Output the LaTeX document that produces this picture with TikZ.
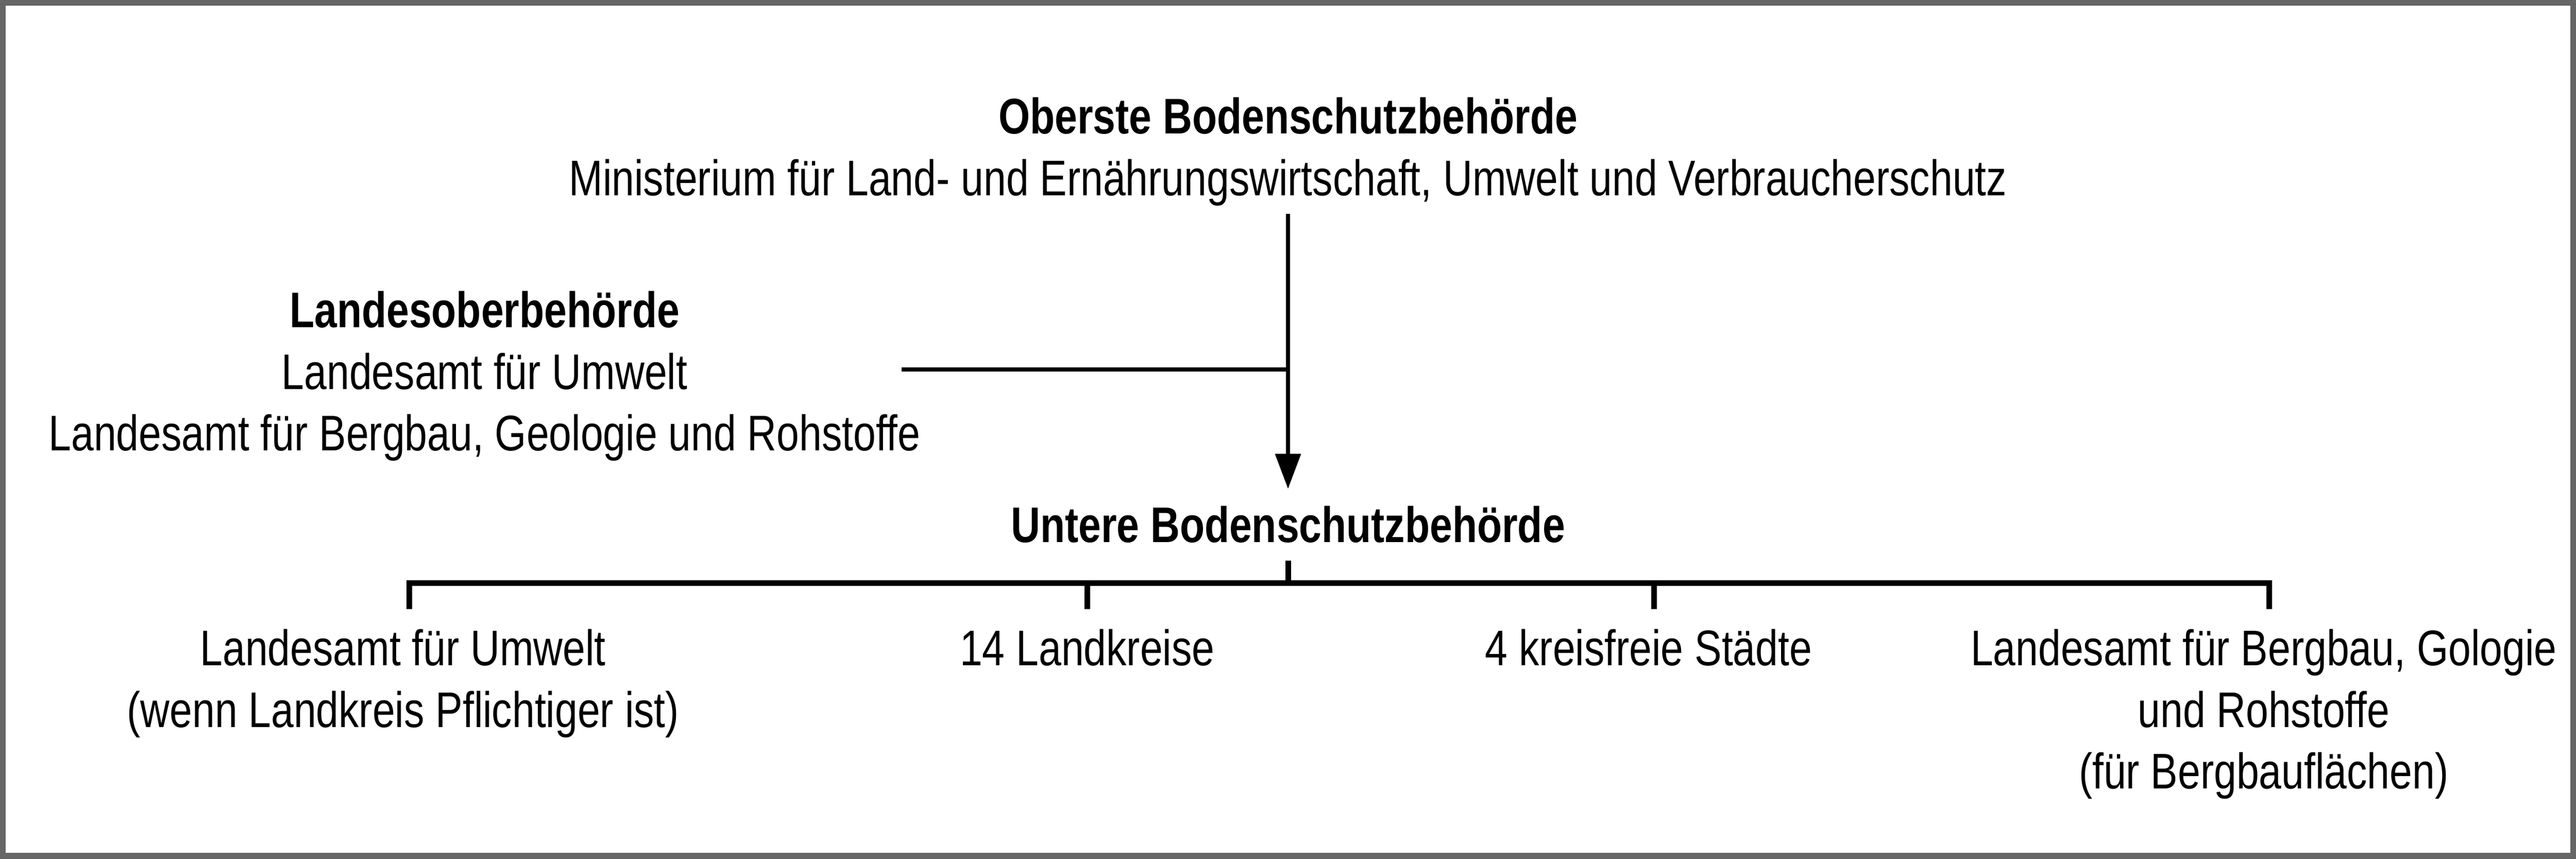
\documentclass[tikz,border=0pt]{standalone}
\usepackage{fontspec}
\setmainfont[FakeStretch=0.81]{Liberation Sans}
\usetikzlibrary{arrows.meta}
\definecolor{framegray}{HTML}{666666}

\begin{document}
\begin{tikzpicture}[
	every node/.style={align=center, inner xsep=0pt, inner ysep=5pt,
		font=\fontsize{13.27pt}{16.33pt}\selectfont},
	lvl/.style={line width=1.2pt},
	brk/.style={line width=1.5pt}]

	\useasboundingbox (0,0) rectangle (24,8);
	\fill[framegray] (0,0) rectangle (24,8);
	\fill[white] (0.055,0.055) rectangle (23.945,7.945);

	% base of a node with several lines = baseline of its last line
	\node[anchor=base,inner ysep=2pt] (top) at (12,6.180) {\textbf{Oberste Bodenschutzbehörde}\\
		Ministerium für Land- und Ernährungswirtschaft, Umwelt und Verbraucherschutz};
	\node[anchor=base] (lob) at (4.515,3.801) {\textbf{Landesoberbehörde}\\
		Landesamt für Umwelt\\
		Landesamt für Bergbau, Geologie und Rohstoffe};
	\node[anchor=base,inner ysep=4.4pt] (ubb) at (12,2.946) {\textbf{Untere Bodenschutzbehörde}};

	\coordinate (hub) at (12,2.571);
	\coordinate (lobend) at (8.40,4.558);
	\coordinate (t1) at (3.815,2.326);
	\coordinate (t2) at (10.13,2.326);
	\coordinate (t3) at (15.41,2.326);
	\coordinate (t4) at (21.14,2.326);

	\node[anchor=base] (lfu) at (3.755,1.227)
		{Landesamt für Umwelt\\(wenn Landkreis Pflichtiger ist)};
	\node[anchor=base] (lkr) at (10.13,1.803) {14 Landkreise};
	\node[anchor=base] (ksf) at (15.36,1.803) {4 kreisfreie Städte};
	\node[anchor=base] (lbg) at (21.09,0.653)
		{Landesamt für Bergbau, Gologie\\und Rohstoffe\\(für Bergbauflächen)};

	\path[lvl,-{Triangle[length=9.3pt,width=6.6pt]}] (top) edge (ubb);
	\path[lvl] (lobend) edge (lobend -| top.south);

	\path[brk] (ubb) edge (hub);
	\draw[brk] (t1) |- (hub) -| (t4);
	\foreach \t in {t2,t3}
		\path[brk] (hub -| \t) edge (\t);

\end{tikzpicture}
\end{document}
